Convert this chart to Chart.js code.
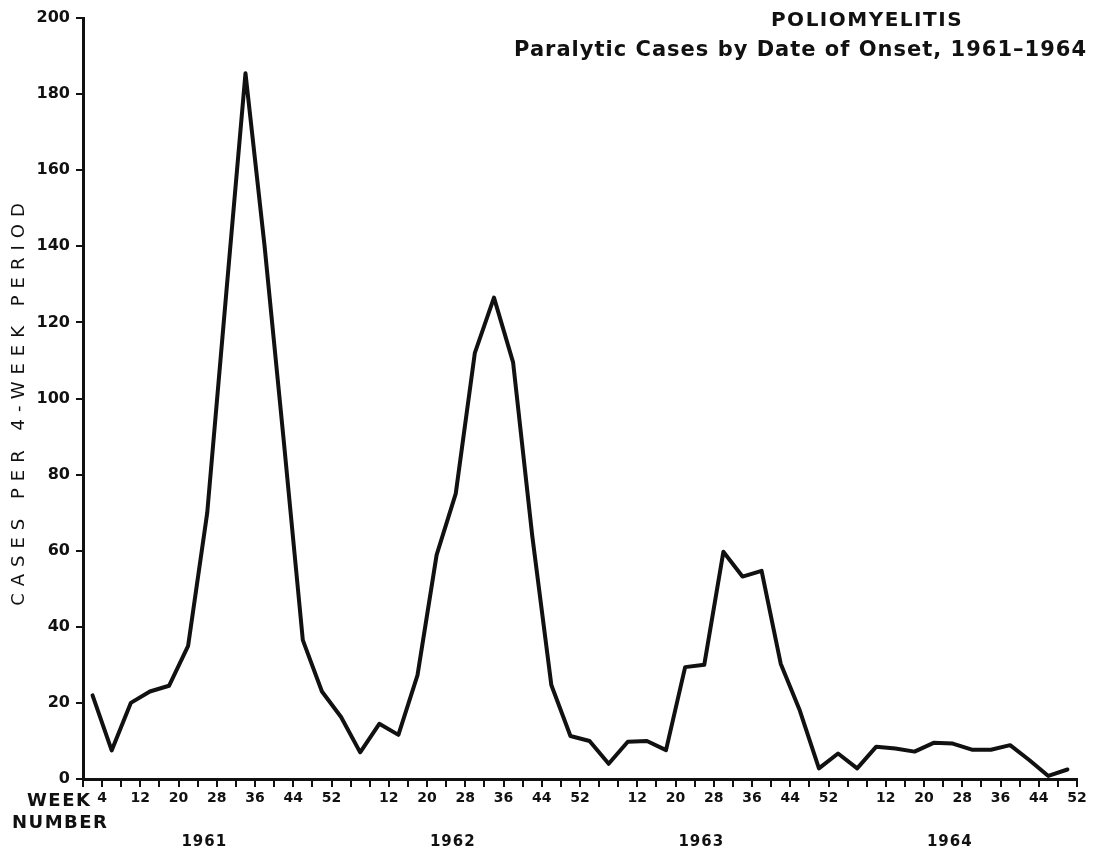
<!DOCTYPE html>
<html>
<head>
<meta charset="utf-8">
<title>Poliomyelitis 1961-1964</title>
<script src="https://cdn.jsdelivr.net/npm/chart.js@4.4.1/dist/chart.umd.min.js"></script>
<style>
  html, body { margin: 0; padding: 0; background: #fff; }
</style>
</head>
<body>
<canvas id="polio" width="1096" height="855"></canvas>
<script>
// paralytic cases per 4-week period, 13 periods a year
var years = ["1961", "1962", "1963", "1964"];
var cases1961 = [22, 7.5, 20, 23, 24.5, 35, 70, 128, 185.5, 140, 89, 36.5, 23];
var cases1962 = [16.3, 7, 14.5, 11.6, 27.3, 58.9, 75, 112, 126.5, 109.5, 64, 24.7, 11.3];
var cases1963 = [10, 4, 9.8, 10, 7.6, 29.4, 30, 59.7, 53.2, 54.7, 30.3, 18, 2.8];
var cases1964 = [6.7, 2.8, 8.5, 8, 7.2, 9.5, 9.3, 7.7, 7.7, 8.9, 5, 0.8, 2.5];
var weekLabels = [4, 12, 20, 28, 36, 44, 52];
var yTicks = [0, 20, 40, 60, 80, 100, 120, 140, 160, 180, 200];

var title = "POLIOMYELITIS";
var subtitle = "Paralytic Cases by Date of Onset, 1961\u20131964";
var yTitle = "CASES PER 4-WEEK PERIOD";

// each point sits in the middle of its 4-week period, weeks counted from jan 1961
var points = [];
[cases1961, cases1962, cases1963, cases1964].forEach(function (list, yr) {
  list.forEach(function (v, p) {
    points.push({ x: yr * 52 + p * 4 + 2, y: v });
  });
});

function weekLabel(v) {
  if (v <= 0) return "";
  var yr = Math.floor((v - 1) / 52);
  var w = v - yr * 52;
  if (weekLabels.indexOf(w) < 0) return "";
  if (w == 4 && yr > 0) return "";
  return String(w);
}

var extras = {
  id: "extras",
  afterDraw: function (chart) {
    var ctx = chart.ctx;
    var xs = chart.scales.x;
    ctx.save();
    ctx.fillStyle = "#111";
    ctx.textBaseline = "middle";

    ctx.font = "bold 20px 'DejaVu Sans'";
    ctx.letterSpacing = "1.5px";
    ctx.textAlign = "center";
    ctx.fillText(title, 867, 21);

    ctx.font = "bold 21px 'DejaVu Sans'";
    ctx.letterSpacing = "1px";
    ctx.textAlign = "right";
    ctx.fillText(subtitle, 1087, 51);

    // axis caption under the y ticks
    ctx.font = "bold 18px 'DejaVu Sans'";
    ctx.letterSpacing = "1.5px";
    ctx.textAlign = "left";
    ctx.fillText("WEEK", 27, 801);
    ctx.fillText("NUMBER", 12, 823);

    ctx.font = "bold 15px 'DejaVu Sans'";
    ctx.letterSpacing = "1px";
    ctx.textAlign = "center";
    years.forEach(function (y, i) {
      ctx.fillText(y, xs.getPixelForValue(i * 52 + 26) - 3, 842);
    });

    ctx.font = "18px 'DejaVu Sans'";
    ctx.letterSpacing = "7px";
    ctx.translate(19, 401);
    ctx.rotate(-Math.PI / 2);
    ctx.fillText(yTitle, 0, 0);
    ctx.restore();
  }
};

new Chart(document.getElementById("polio"), {
  type: "line",
  data: {
    datasets: [{
      data: points,
      borderColor: "#111",
      borderWidth: 4,
      borderJoinStyle: "round",
      borderCapStyle: "round",
      pointRadius: 0,
      tension: 0,
      fill: false
    }]
  },
  options: {
    responsive: false,
    animation: false,
    devicePixelRatio: 1,
    layout: { padding: { top: 18, right: 19, bottom: 0, left: 0 } },
    plugins: { legend: { display: false }, tooltip: { enabled: false } },
    scales: {
      x: {
        type: "linear",
        min: 0,
        max: 208,
        afterFit: function (s) { s.height = 76; },
        ticks: {
          stepSize: 4,
          autoSkip: false,
          maxRotation: 0,
          padding: 3,
          color: "#111",
          font: { family: "'DejaVu Sans'", weight: "bold", size: 14 },
          callback: function (v) { return weekLabel(v); }
        },
        grid: { drawOnChartArea: false, tickLength: 8, color: "#111", lineWidth: 2 },
        border: { display: true, color: "#111", width: 3 }
      },
      y: {
        min: 0,
        max: 200,
        afterFit: function (s) { s.width = 83; },
        afterBuildTicks: function (s) {
          s.ticks = yTicks.map(function (v) { return { value: v }; });
        },
        ticks: {
          padding: 6,
          color: "#111",
          font: { family: "'DejaVu Sans'", weight: "bold", size: 16 }
        },
        grid: { drawOnChartArea: false, tickLength: 7, color: "#111", lineWidth: 2 },
        border: { display: true, color: "#111", width: 3 }
      }
    }
  },
  plugins: [extras]
});
</script>
</body>
</html>
